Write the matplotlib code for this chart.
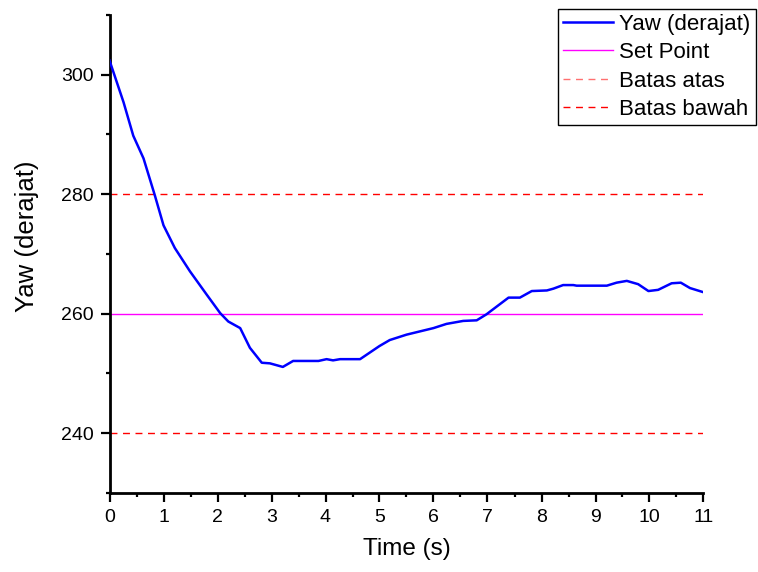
import matplotlib
matplotlib.use("Agg")
import matplotlib.pyplot as plt
from matplotlib.ticker import MultipleLocator

plt.rcParams['font.family'] = ['Liberation Sans', 'DejaVu Sans']

time_s = [0.0, 0.26, 0.44, 0.63, 0.84, 1.0, 1.21, 1.49, 1.80, 2.05, 2.2, 2.42, 2.6, 2.82,
          2.97, 3.21, 3.4, 3.87, 4.02, 4.14, 4.27, 4.64, 5.0, 5.19, 5.5, 6.0, 6.24, 6.55,
          6.8, 6.98, 7.17, 7.39, 7.6, 7.82, 8.1, 8.22, 8.4, 8.59, 8.65, 9.21, 9.39, 9.58,
          9.79, 9.98, 10.16, 10.41, 10.58, 10.75, 11.0]
yaw = [302.4, 295.4, 289.8, 286.0, 279.8, 274.8, 271.0, 267.1, 263.2, 260.1, 258.7, 257.6,
       254.3, 251.8, 251.7, 251.1, 252.1, 252.1, 252.4, 252.2, 252.4, 252.4, 254.6, 255.6,
       256.5, 257.6, 258.3, 258.8, 258.9, 259.9, 261.2, 262.7, 262.7, 263.8, 263.9, 264.2,
       264.8, 264.8, 264.7, 264.7, 265.2, 265.5, 264.95, 263.8, 264.0, 265.1, 265.2, 264.3,
       263.6]
set_point = 260
batas_atas = 280
batas_bawah = 240

fig = plt.figure(figsize=(7.58, 5.72), dpi=100)
ax = fig.add_axes([109.5/758, 1 - 493/572, (703.5 - 109.5)/758, (493 - 15)/572])

ax.plot(time_s, yaw, color='#0000ff', lw=1.8, label='Yaw (derajat)', zorder=3)
ax.axhline(set_point, color='#ff00ff', lw=1.0, label='Set Point')
ax.axhline(batas_atas, color='#ff0000', lw=1.0, ls=(0, (5, 4)), label='Batas atas')
ax.axhline(batas_bawah, color='#ff0000', lw=1.0, ls=(0, (5, 4)), label='Batas bawah')

ax.set_xlim(0, 11)
ax.set_ylim(230, 310)
ax.xaxis.set_major_locator(MultipleLocator(1))
ax.xaxis.set_minor_locator(MultipleLocator(0.5))
ax.yaxis.set_major_locator(MultipleLocator(20))
ax.yaxis.set_minor_locator(MultipleLocator(10))
for s in ['top', 'right']:
    ax.spines[s].set_visible(False)
for s in ['left', 'bottom']:
    ax.spines[s].set_linewidth(2.0)
ax.tick_params(which='major', length=6.5, width=1.6, labelsize=14, direction='out', pad=5)
ax.tick_params(which='minor', length=3, width=1.6, direction='out')

ax.set_xlabel('Time (s)', fontsize=17.5, labelpad=9)
ax.set_ylabel('Yaw (derajat)', fontsize=18.5)
ax.yaxis.set_label_coords(-0.118, (493 - 236) / 478)

leg = ax.legend(loc='upper right', bbox_to_anchor=(755.5/758, 1 - 9/572),
                bbox_transform=fig.transFigure, borderaxespad=0, fancybox=False,
                edgecolor='black', fontsize=16, handlelength=2.25, labelspacing=0.33,
                borderpad=0.22, handletextpad=0.3, framealpha=1)
leg.get_frame().set_linewidth(1.0)
leg.get_lines()[2].set_color('#ff7070')

fig.savefig('out.png', dpi=100)
